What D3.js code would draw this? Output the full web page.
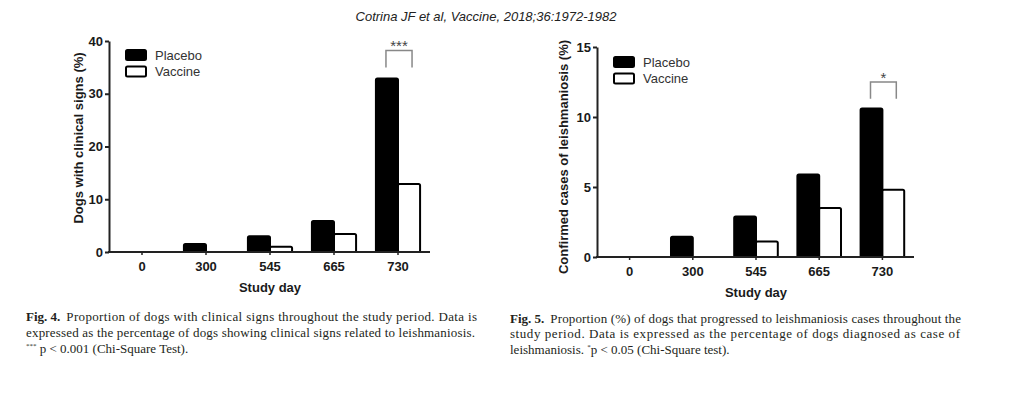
<!DOCTYPE html>
<html lang="en">
  <head>
    <meta charset="utf-8">
    <style type="text/css">
      body {margin: 0; background-color: #fff;}
      svg {display: block;}
      .tick text {font-family: "Liberation Sans", Arial, sans-serif; font-weight: bold; font-size: 13px; fill: #1a1a1a;}
      .caption {font-family: "Liberation Serif", "DejaVu Serif", serif; font-size: 13px; fill: #231f20;}
    </style>
  </head>
  <body>
    <svg id="chart" width="1028" height="394"></svg>

    <script src="https://cdnjs.cloudflare.com/ajax/libs/d3/7.8.5/d3.min.js"></script>
    <script type="text/javascript">
        // study days (x categories) and the two groups
        var days = ["0", "300", "545", "665", "730"];
        var groups = ["Placebo", "Vaccine"];

        // Fig. 4 - dogs with clinical signs (%)
        var signsPlacebo = [0, 1.5, 3.0, 5.9, 32.9];
        var signsVaccine = [0, 0, 1.0, 3.4, 12.9];
        var signsTicks = [0, 10, 20, 30, 40];

        // Fig. 5 - confirmed cases of leishmaniosis (%)
        var casesPlacebo = [0, 1.45, 2.9, 5.9, 10.6];
        var casesVaccine = [0, 0, 1.1, 3.5, 4.8];
        var casesTicks = [0, 5, 10, 15];

        // significance brackets: [day, low end, high end, label]
        var signsSig = ["730", 35, 38.2, "***"];
        var casesSig = ["730", 11.3, 12.5, "*"];

        var svg = d3.select("#chart");

        // header line
        svg.append("text")
            .attr("x", 486)
            .attr("y", 21)
            .attr("text-anchor", "middle")
            .style("font-family", "'Liberation Sans', Arial, sans-serif")
            .style("font-style", "italic")
            .style("font-size", "13px")
            .style("fill", "#222")
            .text("Cotrina JF et al, Vaccine, 2018;36:1972-1982");

        function drawPanel(p) {
          var g = svg.append("g");

          var x = d3.scaleBand().domain(days).range(p.xRange)
              .paddingInner(0.31).paddingOuter(0.155);
          var x1 = d3.scaleBand().domain(groups).range([0, x.bandwidth()]);
          var y = d3.scaleLinear().domain([0, p.yMax]).range(p.yRange);

          // bars
          var rows = [];
          days.forEach(function(d, i) {
            rows.push({day: d, group: "Placebo", value: p.placebo[i]});
            rows.push({day: d, group: "Vaccine", value: p.vaccine[i]});
          });

          g.selectAll("rect.bar")
            .data(rows.filter(function(r) { return r.value > 0; }))
            .enter().append("rect")
              .attr("class", "bar")
              .attr("x", function(r) { return x(r.day) + x1(r.group); })
              .attr("y", function(r) { return y(r.value); })
              .attr("width", x1.bandwidth())
              .attr("height", function(r) { return y(0) - y(r.value); })
              .attr("rx", 1.5)
              .style("fill", function(r) { return r.group == "Placebo" ? "#000" : "#fff"; })
              .style("stroke", "#000")
              .style("stroke-width", 2);

          // axes
          var yAxis = g.append("g")
              .attr("transform", "translate(" + (p.xRange[0] - 1) + ",0)")
              .call(d3.axisLeft(y).tickValues(p.ticks).tickSize(4).tickSizeOuter(0).tickPadding(2));
          yAxis.select(".domain").style("stroke-width", 2).style("stroke", "#222");
          yAxis.selectAll(".tick line").style("stroke-width", 2).style("stroke", "#222");

          var xAxis = g.append("g")
              .attr("transform", "translate(0," + y(0) + ")")
              .call(d3.axisBottom(x).tickSize(3).tickSizeOuter(0).tickPadding(7));
          xAxis.select(".domain").style("stroke-width", 2).style("stroke", "#222")
              .attr("d", "M" + (p.xRange[0] - 2) + ",0H" + p.xRange[1]);
          xAxis.selectAll(".tick line").style("stroke-width", 1.5).style("stroke", "#222");

          // axis titles
          g.append("text")
              .attr("x", (p.xRange[0] + p.xRange[1]) / 2)
              .attr("y", y(0) + 40)
              .attr("text-anchor", "middle")
              .style("font-family", "'Liberation Sans', Arial, sans-serif")
              .style("font-weight", "bold")
              .style("font-size", "13px")
              .style("fill", "#1a1a1a")
              .text("Study day");

          g.append("text")
              .attr("transform", "translate(" + p.yTitleX + "," + p.yTitleY + ") rotate(-90)")
              .attr("text-anchor", "middle")
              .attr("dy", "0.35em")
              .style("font-family", "'Liberation Sans', Arial, sans-serif")
              .style("font-weight", "bold")
              .style("font-size", "13px")
              .style("fill", "#1a1a1a")
              .text(p.yTitle);

          // legend
          var leg = g.selectAll("g.legend").data(groups)
            .enter().append("g")
              .attr("class", "legend")
              .attr("transform", function(d, i) {
                return "translate(" + p.legend[0] + "," + (p.legend[1] + i * 16.5) + ")";
              });
          leg.append("rect")
              .attr("width", 20).attr("height", 10).attr("rx", 1.5)
              .style("fill", function(d) { return d == "Placebo" ? "#000" : "#fff"; })
              .style("stroke", "#000")
              .style("stroke-width", 2);
          leg.append("text")
              .attr("x", 29)
              .attr("y", 5)
              .attr("dy", "0.35em")
              .style("font-family", "'Liberation Sans', Arial, sans-serif")
              .style("font-size", "13px")
              .style("fill", "#333")
              .text(function(d) { return d; });

          // significance bracket
          var s = p.sig;
          var bx0 = x(s[0]) + x1("Placebo") + x1.bandwidth() / 2 - 1;
          var bx1 = x(s[0]) + x1("Vaccine") + x1.bandwidth() / 2 + 3;
          g.append("path")
              .attr("d", "M" + bx0 + "," + y(s[1]) + "V" + y(s[2]) + "H" + bx1 + "V" + y(s[1]))
              .style("fill", "none")
              .style("stroke", "#888")
              .style("stroke-width", 1.5);
          g.append("text")
              .attr("x", (bx0 + bx1) / 2)
              .attr("y", y(s[2]) + 1)
              .attr("text-anchor", "middle")
              .style("font-family", "'Liberation Sans', Arial, sans-serif")
              .style("font-size", "15px")
              .style("fill", "#444")
              .text(s[3]);
        }

        drawPanel({
          xRange: [110, 430], yRange: [252, 41], yMax: 40,
          placebo: signsPlacebo, vaccine: signsVaccine, ticks: signsTicks,
          yTitle: "Dogs with clinical signs (%)", yTitleX: 78, yTitleY: 138,
          legend: [126, 50], sig: signsSig
        });

        drawPanel({
          xRange: [598, 914], yRange: [257, 47], yMax: 15,
          placebo: casesPlacebo, vaccine: casesVaccine, ticks: casesTicks,
          yTitle: "Confirmed cases of leishmaniosis (%)", yTitleX: 563, yTitleY: 157,
          legend: [614, 57], sig: casesSig
        });

        // captions: bold figure label, then the (justified) rest of the line
        function captionLine(x0, y0, x1, bold, rest, justify) {
          var start = x0;
          if (bold) {
            var b = svg.append("text").attr("class", "caption").attr("x", x0).attr("y", y0)
                .style("font-weight", "bold").text(bold);
            start = x0 + b.node().getComputedTextLength() + 6;
          }
          var r = svg.append("text").attr("class", "caption").attr("x", start).attr("y", y0).text(rest);
          if (justify) r.attr("textLength", x1 - start).attr("lengthAdjust", "spacing");
          return r;
        }

        captionLine(26, 321, 477, "Fig. 4.", "Proportion of dogs with clinical signs throughout the study period. Data is", true);
        captionLine(26, 337, 475, null, "expressed as the percentage of dogs showing clinical signs related to leishmaniosis.", true);
        var c3 = svg.append("text").attr("class", "caption").attr("x", 26).attr("y", 353);
        c3.append("tspan").attr("dy", -5).style("font-size", "7px").text("***");
        c3.append("tspan").attr("dy", 5).text(" p < 0.001 (Chi-Square Test).");

        captionLine(510, 323, 961, "Fig. 5.", "Proportion (%) of dogs that progressed to leishmaniosis cases throughout the", true);
        captionLine(510, 338, 960, null, "study period. Data is expressed as the percentage of dogs diagnosed as case of", true);
        var c6 = svg.append("text").attr("class", "caption").attr("x", 510).attr("y", 354);
        c6.append("tspan").text("leishmaniosis. ");
        c6.append("tspan").attr("dy", -5).style("font-size", "7px").text("*");
        c6.append("tspan").attr("dy", 5).text("p < 0.05 (Chi-Square test).");
    </script>
  </body>
</html>
